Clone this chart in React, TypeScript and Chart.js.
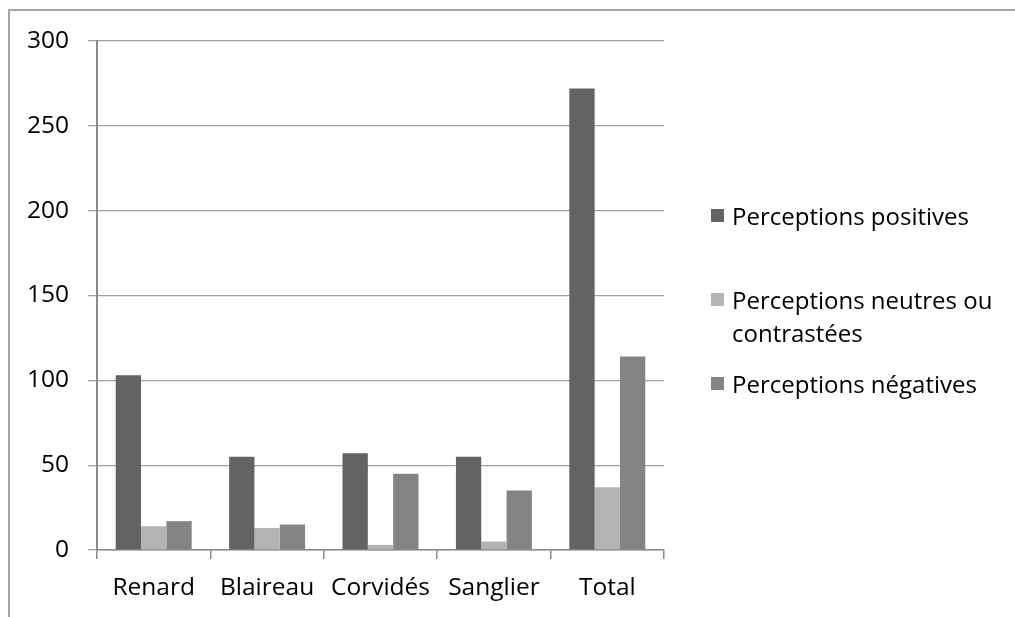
import React, { useEffect, useRef } from "react";
import { Chart, registerables } from "chart.js";

Chart.register(...registerables);

const categories = ["Renard", "Blaireau", "Corvidés", "Sanglier", "Total"];
const positives = [103, 55, 57, 55, 272];
const neutres = [14, 13, 3, 5, 37];
const negatives = [17, 15, 45, 35, 114];
const seriesLabels = [
  "Perceptions positives",
  "Perceptions neutres ou contrastées",
  "Perceptions négatives",
];
const legendLines = [
  ["Perceptions positives"],
  ["Perceptions neutres ou", "contrastées"],
  ["Perceptions négatives"],
];
const seriesColors = ["#636363", "#b3b3b3", "#848484"];
const yMin = 0;
const yMax = 300;
const yStep = 50;

const FONT = "'Open Sans', 'Noto Sans', sans-serif";

export default function App() {
  const ref = useRef<HTMLCanvasElement | null>(null);

  useEffect(() => {
    if (!ref.current) return;
    const chart = new Chart(ref.current, {
      type: "bar",
      data: {
        labels: categories,
        datasets: [
          { label: seriesLabels[0], data: positives, backgroundColor: seriesColors[0] },
          { label: seriesLabels[1], data: neutres, backgroundColor: seriesColors[1] },
          { label: seriesLabels[2], data: negatives, backgroundColor: seriesColors[2] },
        ],
      },
      options: {
        responsive: false,
        animation: false,
        datasets: { bar: { barPercentage: 1, categoryPercentage: 0.67 } },
        layout: { padding: { left: 0, top: 41, right: 1015 - 664, bottom: 0 } },
        plugins: { legend: { display: false }, tooltip: { enabled: false } },
        scales: {
          x: {
            grid: {
              offset: true,
              drawOnChartArea: false,
              drawTicks: true,
              tickLength: 9,
              color: "#8a8a8a",
              lineWidth: 1.5,
            },
            border: { color: "#8a8a8a", width: 1.5 },
            ticks: { color: "#000", font: { family: FONT, size: 24.5 }, padding: 14 },
            afterFit: (s: any) => {
              s.height = 617 - 550;
            },
          },
          y: {
            min: yMin,
            max: yMax,
            ticks: {
              stepSize: yStep,
              color: "#000",
              font: { family: FONT, size: 24.5 },
              padding: 19,
            },
            grid: { color: "#a0a0a0", lineWidth: 1.3, tickLength: 9 },
            border: { color: "#8a8a8a", width: 2 },
            afterFit: (s: any) => {
              s.width = 97;
            },
          },
        },
      },
    });
    return () => chart.destroy();
  }, []);

  const legendTops = [216, 300, 384];

  return (
    <div
      style={{
        position: "fixed",
        left: 0,
        top: 0,
        width: 1015,
        height: 617,
        overflow: "hidden",
        background: "#fff",
      }}
    >
      <div
        style={{
          position: "absolute",
          left: 8,
          top: 9,
          width: 1100,
          height: 700,
          border: "2px solid #a3a3a3",
        }}
      />
      <canvas
        ref={ref}
        width={1015}
        height={617}
        style={{ position: "absolute", left: 0, top: 0, width: 1015, height: 617 }}
      />
      {legendLines.map((lines, i) => (
        <div key={i}>
          <div
            style={{
              position: "absolute",
              left: 711,
              top: legendTops[i] - 7,
              width: 13,
              height: 13,
              background: seriesColors[i],
            }}
          />
          {lines.map((t, j) => (
            <div
              key={j}
              style={{
                position: "absolute",
                left: 732,
                top: legendTops[i] - 16 + j * 33,
                height: 32,
                lineHeight: "32px",
                fontFamily: FONT,
                fontSize: 24,
                color: "#000",
                whiteSpace: "nowrap",
              }}
            >
              {t}
            </div>
          ))}
        </div>
      ))}
    </div>
  );
}
